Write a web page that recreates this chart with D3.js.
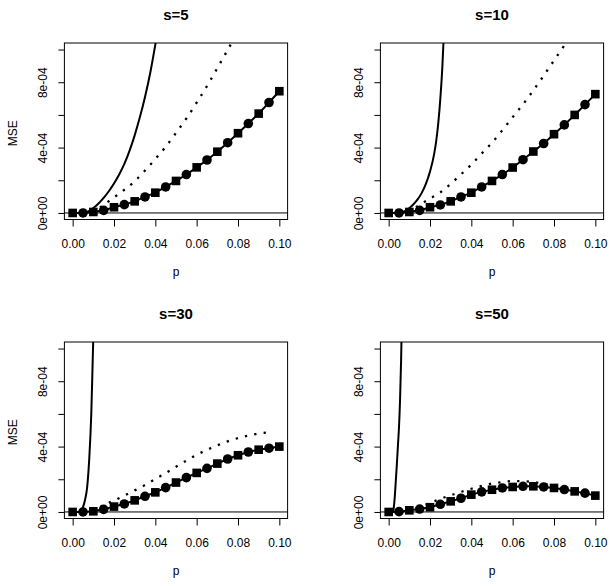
<!DOCTYPE html>
<html><head><meta charset="utf-8">
<script src="https://cdn.jsdelivr.net/npm/d3@7"></script>
<style>
body{margin:0;background:#fff}
svg{display:block}
text{font-family:"Liberation Sans",Arial,Helvetica,sans-serif;fill:#000}
</style></head>
<body><svg id="c" width="614" height="586"></svg>
<script>
// ---------- data ----------
const panelTitles = ["s=5", "s=10", "s=30", "s=50"];
const pGrid = [0,0.005,0.01,0.015,0.02,0.025,0.03,0.035,0.04,0.045,0.05,0.055,0.06,0.065,0.07,0.075,0.08,0.085,0.09,0.095,0.1];
const xTicks = [0,0.02,0.04,0.06,0.08,0.1];
const xTickLabels = ["0.00","0.02","0.04","0.06","0.08","0.10"];
const yTicks = [0,2e-4,4e-4,6e-4,8e-4,1e-3];
const yTickLabels = ["0e+00","","4e-04","","8e-04",""];

// marker series (squares at even grid points, circles at odd)
const markS5  = [0,0,0.06e-4,0.16e-4,0.35e-4,0.51e-4,0.71e-4,0.98e-4,1.24e-4,1.59e-4,1.96e-4,2.35e-4,2.79e-4,3.24e-4,3.75e-4,4.30e-4,4.88e-4,5.47e-4,6.08e-4,6.76e-4,7.45e-4];
const markS10 = [0,0,0.06e-4,0.16e-4,0.35e-4,0.49e-4,0.71e-4,0.98e-4,1.24e-4,1.59e-4,1.96e-4,2.35e-4,2.78e-4,3.26e-4,3.76e-4,4.25e-4,4.82e-4,5.39e-4,6.00e-4,6.63e-4,7.27e-4];
const markS30 = [0,0,0.04e-4,0.16e-4,0.33e-4,0.49e-4,0.71e-4,0.96e-4,1.20e-4,1.49e-4,1.80e-4,2.10e-4,2.39e-4,2.67e-4,2.96e-4,3.24e-4,3.47e-4,3.67e-4,3.81e-4,3.90e-4,4.00e-4];
const markS50 = [0,0.02e-4,0.10e-4,0.18e-4,0.29e-4,0.47e-4,0.65e-4,0.84e-4,1.06e-4,1.23e-4,1.36e-4,1.47e-4,1.53e-4,1.57e-4,1.57e-4,1.53e-4,1.47e-4,1.37e-4,1.26e-4,1.15e-4,1.00e-4];

// dotted series on pGrid (null = not drawn)
const dotS5  = [0,0,0.08e-4,0.5e-4,0.95e-4,1.42e-4,1.93e-4,2.6e-4,3.3e-4,4.05e-4,4.9e-4,5.78e-4,6.75e-4,7.77e-4,8.86e-4,9.98e-4,11.1e-4,null,null,null,null];
const dotS10 = [0,0,0.1e-4,0.5e-4,0.88e-4,1.26e-4,1.78e-4,2.36e-4,2.96e-4,3.63e-4,4.3e-4,5.06e-4,5.86e-4,6.65e-4,7.5e-4,8.4e-4,9.33e-4,10.25e-4,11.2e-4,null,null];
const dotS30 = [0,0,0.1e-4,0.42e-4,0.7e-4,1.0e-4,1.32e-4,1.65e-4,2.02e-4,2.38e-4,2.77e-4,3.14e-4,3.5e-4,3.8e-4,4.08e-4,4.32e-4,4.52e-4,4.67e-4,4.8e-4,4.87e-4,null];
const dotS50 = [0,0.02e-4,0.12e-4,0.3e-4,0.55e-4,0.8e-4,1.02e-4,1.23e-4,1.42e-4,1.6e-4,1.74e-4,1.83e-4,1.89e-4,1.88e-4,1.83e-4,1.72e-4,1.6e-4,1.46e-4,1.3e-4,1.16e-4,1.0e-4];

// steep solid curves
const solidS5P  = [0.0045,0.005,0.0075,0.01,0.0125,0.015,0.0175,0.02,0.0225,0.025,0.0275,0.03,0.0325,0.035,0.0375,0.04,0.0425];
const solidS5V  = [0,1e-6,1e-5,3e-5,5.8e-5,9.2e-5,1.33e-4,1.8e-4,2.35e-4,3.0e-4,3.8e-4,4.75e-4,5.85e-4,7.1e-4,8.55e-4,1.03e-3,1.22e-3];
const solidS10P = [0.004,0.006,0.008,0.01,0.012,0.014,0.016,0.018,0.02,0.022,0.023,0.024,0.025,0.026,0.0265,0.027];
const solidS10V = [0,3e-6,1.3e-5,3e-5,5.3e-5,8.3e-5,1.23e-4,1.78e-4,2.53e-4,3.6e-4,4.4e-4,5.5e-4,7.0e-4,9.0e-4,1.04e-3,1.2e-3];
const solidS30P = [0.003,0.004,0.005,0.006,0.007,0.008,0.009,0.0095,0.01,0.0105];
const solidS30V = [0,5e-6,3e-5,7.5e-5,1.5e-4,3.2e-4,6e-4,8.3e-4,1.08e-3,1.35e-3];
const solidS50P = [0.002,0.0025,0.003,0.0035,0.004,0.0045,0.005,0.0055,0.006,0.0065];
const solidS50V = [0,3e-5,1e-4,2e-4,3e-4,4.1e-4,5.2e-4,6.8e-4,9.2e-4,1.25e-3];

// ---------- layout ----------
const PW = 223.2, PH = 176.5;
const panels = [
  {title: panelTitles[0], L: 64.4,  T: 43,  mark: markS5,  dot: dotS5,  sp: solidS5P,  sv: solidS5V,  ylab: true},
  {title: panelTitles[1], L: 380.4, T: 43,  mark: markS10, dot: dotS10, sp: solidS10P, sv: solidS10V, ylab: false},
  {title: panelTitles[2], L: 64.4,  T: 342, mark: markS30, dot: dotS30, sp: solidS30P, sv: solidS30V, ylab: true},
  {title: panelTitles[3], L: 380.4, T: 342, mark: markS50, dot: dotS50, sp: solidS50P, sv: solidS50V, ylab: false}
];

const svg = d3.select("#c");
const defs = svg.append("defs");

panels.forEach((pn, i) => {
  const x = d3.scaleLinear().domain([-0.004, 0.104]).range([pn.L, pn.L + PW]);
  const y = d3.scaleLinear().domain([-0.00004, 0.00104]).range([pn.T + PH, pn.T]);
  const g = svg.append("g");

  defs.append("clipPath").attr("id", "clip" + i)
    .append("rect").attr("x", pn.L).attr("y", pn.T).attr("width", PW).attr("height", PH);
  const plot = g.append("g").attr("clip-path", `url(#clip${i})`);

  // horizontal reference line at 0
  plot.append("line")
    .attr("x1", pn.L).attr("x2", pn.L + PW)
    .attr("y1", y(0)).attr("y2", y(0))
    .attr("stroke", "#000").attr("stroke-width", 1);

  // steep solid curve
  plot.append("path")
    .datum(d3.zip(pn.sp, pn.sv))
    .attr("d", d3.line().x(d => x(d[0])).y(d => y(d[1])).curve(d3.curveMonotoneX))
    .attr("fill", "none").attr("stroke", "#000").attr("stroke-width", 2);

  // dotted curve
  plot.append("path")
    .datum(pGrid.map((p, j) => [p, pn.dot[j]]))
    .attr("d", d3.line().defined(d => d[1] != null).x(d => x(d[0])).y(d => y(d[1])).curve(d3.curveMonotoneX))
    .attr("fill", "none").attr("stroke", "#000").attr("stroke-width", 2.3)
    .attr("stroke-dasharray", "2.3,7.2");

  // marker line
  const md = pGrid.map((p, j) => [p, pn.mark[j], j]);
  plot.append("path")
    .datum(md)
    .attr("d", d3.line().x(d => x(d[0])).y(d => y(d[1])))
    .attr("fill", "none").attr("stroke", "#000").attr("stroke-width", 2);

  // squares
  const sq = 8.6;
  plot.selectAll("rect.sq").data(md.filter(d => d[2] % 2 === 0)).enter()
    .append("rect").attr("class", "sq")
    .attr("x", d => x(d[0]) - sq / 2).attr("y", d => y(d[1]) - sq / 2)
    .attr("width", sq).attr("height", sq).attr("fill", "#000");
  // circles
  plot.selectAll("circle.ci").data(md.filter(d => d[2] % 2 === 1)).enter()
    .append("circle").attr("class", "ci")
    .attr("cx", d => x(d[0])).attr("cy", d => y(d[1])).attr("r", 4.8).attr("fill", "#000");

  // box
  g.append("rect").attr("x", pn.L).attr("y", pn.T).attr("width", PW).attr("height", PH)
    .attr("fill", "none").attr("stroke", "#000").attr("stroke-width", 1);

  // x axis
  const xa = g.append("g").attr("transform", `translate(0,${pn.T + PH})`)
    .call(d3.axisBottom(x).tickValues(xTicks).tickFormat((d, k) => xTickLabels[k]).tickSize(7).tickPadding(13));
  xa.select(".domain").remove();
  xa.attr("font-size", 12).attr("font-family", null);
  xa.selectAll("line").attr("stroke", "#000");
  xa.selectAll("text").attr("fill", "#000");

  // y axis
  const ya = g.append("g").attr("transform", `translate(${pn.L},0)`)
    .call(d3.axisLeft(y).tickValues(yTicks).tickFormat((d, k) => yTickLabels[k]).tickSize(6));
  ya.select(".domain").remove();
  ya.attr("font-size", 12).attr("font-family", null);
  ya.selectAll("line").attr("stroke", "#000");
  ya.selectAll("text").attr("x", null).attr("dy", null)
    .attr("text-anchor", "middle").attr("fill", "#000")
    .attr("transform", "translate(-17,0) rotate(-90)");

  // title
  g.append("text").attr("x", pn.L + PW / 2).attr("y", pn.T - 23.5)
    .attr("text-anchor", "middle").attr("font-size", 15).attr("font-weight", "bold")
    .attr("fill", "#000").text(pn.title);

  // x label
  g.append("text").attr("x", pn.L + PW / 2).attr("y", pn.T + PH + 56)
    .attr("text-anchor", "middle").attr("font-size", 12).attr("fill", "#000").text("p");

  // y label
  if (pn.ylab) {
    g.append("text")
      .attr("transform", `translate(16.7,${pn.T + PH / 2 + 2}) rotate(-90)`)
      .attr("text-anchor", "middle").attr("font-size", 12).attr("fill", "#000").text("MSE");
  }
});
</script></body></html>
